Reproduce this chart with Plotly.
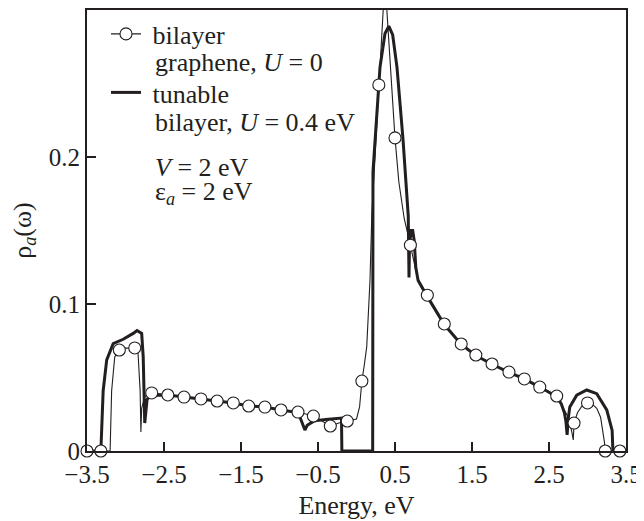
import plotly.graph_objects as go

# ---- data ----
# circle markers on the U = 0 curve
marker_E = [-3.50, -3.32, -3.08, -2.88, -2.66, -2.45, -2.24, -2.02, -1.81, -1.60,
            -1.40, -1.19, -0.98, -0.76, -0.56, -0.34, -0.12, 0.07, 0.29, 0.50,
            0.70, 0.92, 1.14, 1.36, 1.55, 1.76, 1.98, 2.18, 2.38, 2.60,
            2.825, 3.00, 3.23, 3.42]
marker_rho = [0.0, 0.0, 0.0687, 0.0701, 0.0395, 0.0381, 0.0367, 0.0354, 0.0340, 0.0327,
              0.0306, 0.0299, 0.0279, 0.0265, 0.0238, 0.0170, 0.0204, 0.0476, 0.249, 0.213,
              0.140, 0.106, 0.0864, 0.0728, 0.0653, 0.0592, 0.0537, 0.0490, 0.0435, 0.0374,
              0.0190, 0.0327, 0.0, 0.0]

# thin curve: bilayer graphene, U = 0
bilayer_E = [-3.50, -3.20, -3.18, -3.14, -3.08, -3.00, -2.88, -2.84, -2.81, -2.80,
             -2.79, -2.75, -2.66, -2.45, -2.24, -2.02, -1.81, -1.60, -1.40, -1.19,
             -0.98, -0.76, -0.56, -0.45, -0.34, -0.22, -0.12, 0.00, 0.04, 0.07,
             0.10, 0.133, 0.175, 0.20, 0.23, 0.26, 0.29, 0.32, 0.344, 0.37,
             0.40, 0.45, 0.50, 0.55, 0.62, 0.70, 0.79, 0.92, 1.14, 1.36,
             1.55, 1.76, 1.98, 2.18, 2.38, 2.60, 2.70, 2.76, 2.80, 2.815,
             2.825, 2.87, 2.92, 3.00, 3.08, 3.12, 3.17, 3.20, 3.22, 3.23, 3.50]
bilayer_rho = [0.0, 0.0, 0.041, 0.064, 0.0687, 0.070, 0.0701, 0.069, 0.041, 0.013,
               0.029, 0.037, 0.0395, 0.0381, 0.0367, 0.0354, 0.0340, 0.0327, 0.0306, 0.0299,
               0.0279, 0.0265, 0.0238, 0.0205, 0.0170, 0.0192, 0.0204, 0.0218, 0.030, 0.0476,
               0.058, 0.071, 0.116, 0.162, 0.19, 0.22, 0.249, 0.28, 0.30, 0.322,
               0.295, 0.25, 0.213, 0.183, 0.158, 0.140, 0.118, 0.106, 0.0864, 0.0728,
               0.0653, 0.0592, 0.0537, 0.0490, 0.0435, 0.0374, 0.028, 0.022, 0.012, 0.0075,
               0.019, 0.026, 0.030, 0.0327, 0.031, 0.029, 0.023, 0.014, 0.006, 0.0, 0.0]

# thick curve: tunable bilayer, U = 0.4 eV
tunable_E = [-3.50, -3.32, -3.29, -3.244, -3.16, -3.03, -2.90, -2.85, -2.79, -2.77,
             -2.75, -2.72, -2.68, -2.45, -2.24, -2.02, -1.81, -1.60, -1.40, -1.19,
             -0.98, -0.76, -0.73, -0.69, -0.67, -0.64, -0.55, -0.40, -0.25, -0.195,
             -0.19, 0.21, 0.214, 0.266, 0.305, 0.37, 0.42, 0.47, 0.526, 0.604,
             0.656, 0.672, 0.682, 0.688, 0.71, 0.73, 0.75, 0.77, 0.80, 0.86,
             0.92, 1.14, 1.36, 1.55, 1.76, 1.98, 2.18, 2.38, 2.60, 2.66,
             2.70, 2.72, 2.73, 2.735, 2.75, 2.77, 2.86, 2.99, 3.12, 3.25,
             3.32, 3.33, 3.50]
tunable_rho = [0.0, 0.0, 0.041, 0.062, 0.073, 0.076, 0.080, 0.082, 0.080, 0.064,
               0.019, 0.035, 0.038, 0.0381, 0.0367, 0.0354, 0.0340, 0.0327, 0.0306, 0.0299,
               0.0279, 0.0262, 0.0224, 0.0160, 0.0143, 0.0175, 0.0205, 0.0215, 0.0222, 0.0224,
               0.0, 0.0, 0.19, 0.227, 0.261, 0.284, 0.289, 0.283, 0.261, 0.212,
               0.171, 0.160, 0.118, 0.140, 0.150, 0.150, 0.143, 0.125, 0.116, 0.110,
               0.105, 0.086, 0.0725, 0.065, 0.059, 0.0535, 0.049, 0.0435, 0.037, 0.032,
               0.026, 0.020, 0.011, 0.011, 0.022, 0.030, 0.038, 0.0415, 0.039, 0.028,
               0.014, 0.0, 0.0]

x_ticks = [-3.5, -2.5, -1.5, -0.5, 0.5, 1.5, 2.5, 3.5]
y_ticks = [0, 0.1, 0.2]
y_tick_text = ["0", "0.1", "0.2"]

INK = "#231f20"
FONT = "Liberation Serif, Times New Roman, Times, serif"
FS = 26      # legend / title text
TFS = 25     # tick labels

PLOT_W, PLOT_H = 539.0, 441.0

fig = go.Figure()

fig.add_trace(go.Scatter(
    x=bilayer_E, y=bilayer_rho, mode="lines",
    line=dict(color=INK, width=1.1), showlegend=False, hoverinfo="skip"))
fig.add_trace(go.Scatter(
    x=tunable_E, y=tunable_rho, mode="lines",
    line=dict(color=INK, width=3),
    name=" tunable", legend="legend2"))
fig.add_trace(go.Scatter(
    x=marker_E, y=marker_rho, mode="markers", cliponaxis=False,
    marker=dict(symbol="circle", size=12, color="white",
                line=dict(color=INK, width=1.1)),
    showlegend=False))
# legend entry for the U = 0 curve (line with circle)
fig.add_trace(go.Scatter(
    x=[None], y=[None], mode="lines+markers",
    line=dict(color=INK, width=1.1),
    marker=dict(symbol="circle", size=12, color="white",
                line=dict(color=INK, width=1.1)),
    name=" bilayer", legend="legend"))

axis_common = dict(
    showline=True, linecolor=INK, linewidth=2, mirror=True,
    ticks="inside", ticklen=9, tickwidth=1.5, tickcolor=INK,
    showgrid=False, zeroline=False, automargin=False,
    tickfont=dict(family=FONT, size=TFS, color=INK),
)

def note(text, xpx, ypx):
    # xpx, ypx: pixel position inside the plot area (from its top-left)
    return dict(text=text, xref="paper", yref="paper",
                x=xpx / PLOT_W, y=1 - ypx / PLOT_H,
                xanchor="left", yanchor="middle", showarrow=False,
                font=dict(family=FONT, size=FS, color=INK))

# the page body adds an 8 px offset, so the figure is 8 px smaller than the window
fig.update_layout(
    width=636, height=513,
    margin=dict(l=79, r=18, t=2, b=70),
    paper_bgcolor="white", plot_bgcolor="white",
    font=dict(family=FONT, size=FS, color=INK),
    xaxis=dict(range=[-3.5, 3.5], tickvals=x_ticks,
               title=dict(text="Energy, eV", font=dict(family=FONT, size=FS, color=INK), standoff=9),
               **axis_common),
    yaxis=dict(range=[0, 0.3], tickvals=y_ticks, ticktext=y_tick_text,
               title=dict(text="ρ<sub><i>a</i></sub>(ω)", font=dict(family=FONT, size=FS, color=INK), standoff=12),
               **axis_common),
    legend=dict(x=19 / PLOT_W, y=1 - 0.5 / PLOT_H, xanchor="left", yanchor="top", valign="middle",
                bgcolor="rgba(0,0,0,0)", font=dict(family=FONT, size=FS, color=INK),
                itemwidth=30, borderwidth=0),
    legend2=dict(x=19 / PLOT_W, y=1 - 59 / PLOT_H, xanchor="left", yanchor="top", valign="middle",
                 bgcolor="rgba(0,0,0,0)", font=dict(family=FONT, size=FS, color=INK),
                 itemwidth=30, borderwidth=0),
    annotations=[
        note("graphene, <i>U</i> = 0", 66, 53),
        note("bilayer, <i>U</i> = 0.4 eV", 66, 112),
        note("<i>V</i> = 2 eV", 66, 157),
        note("ε<sub><i>a</i></sub> = 2 eV", 66, 183),
    ],
)

fig.write_html("out.html")
